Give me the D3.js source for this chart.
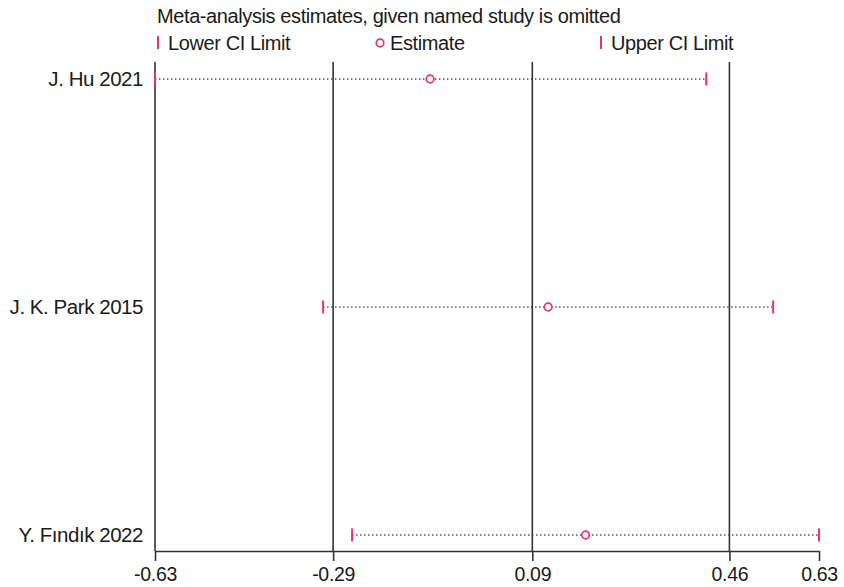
<!DOCTYPE html>
<html><head><meta charset="utf-8">
<script src="https://cdn.jsdelivr.net/npm/d3@7"></script>
<style>
html,body{margin:0;padding:0;background:#fff;}
text{font-family:"Liberation Sans",Arial,sans-serif;fill:#1a1a1a;}
</style></head>
<body>
<svg id="chart" width="844" height="587"></svg>
<script>
const studies = ["J. Hu 2021", "J. K. Park 2015", "Y. Fındık 2022"];
const lower = [-0.63, -0.311, -0.256];
const estimate = [-0.108, 0.116, 0.187];
const upper = [0.416, 0.543, 0.63];
const tickValues = [-0.63, -0.292, 0.086, 0.46, 0.63];
const tickLabels = ["-0.63", "-0.29", "0.09", "0.46", "0.63"];
const titleText = "Meta-analysis estimates, given named study is omitted";
const legendLabels = ["Lower CI Limit", "Estimate", "Upper CI Limit"];

const pink = "#e8336a";
const svg = d3.select("#chart");
const x = d3.scaleLinear().domain([-0.63, 0.63]).range([155, 819]);
const y = d3.scalePoint().domain(studies).range([79, 535]);
const plotTop = 62, axisY = 551;

// vertical reference lines
svg.selectAll("line.vref").data(tickValues.slice(0, 4)).enter().append("line")
  .attr("x1", d => x(d)).attr("x2", d => x(d))
  .attr("y1", plotTop).attr("y2", axisY)
  .attr("stroke", "#333").attr("stroke-width", 1.6);

// axis
const axis = d3.axisBottom(x).tickValues(tickValues)
  .tickFormat((d, i) => tickLabels[i]).tickSize(10).tickSizeOuter(0);
const ag = svg.append("g").attr("transform", `translate(0,${axisY})`).call(axis);
ag.select(".domain").attr("stroke", "#333").attr("stroke-width", 1.6);
ag.selectAll(".tick line").attr("stroke", "#333").attr("stroke-width", 1.6);
ag.selectAll(".tick text").attr("font-size", 19.5).attr("dy", "0.88em")
  .attr("letter-spacing", -0.3)
  .style("font-family", '"Liberation Sans",Arial,sans-serif').attr("fill", "#1a1a1a");

const rows = studies.map((s, i) => ({s, lo: lower[i], est: estimate[i], up: upper[i]}));

// dotted lines
svg.selectAll("line.ci").data(rows).enter().append("line")
  .attr("x1", d => x(d.lo)).attr("x2", d => x(d.up))
  .attr("y1", d => y(d.s)).attr("y2", d => y(d.s))
  .attr("stroke", "#4a4a4a").attr("stroke-width", 1.4).attr("stroke-dasharray", "1.4,2.6");

// CI limit ticks
["lo", "up"].forEach(k => {
  svg.selectAll("line.lim" + k).data(rows).enter().append("line")
    .attr("x1", d => x(d[k])).attr("x2", d => x(d[k]))
    .attr("y1", d => y(d.s) - 6.5).attr("y2", d => y(d.s) + 6.5)
    .attr("stroke", pink).attr("stroke-width", 2);
});

// estimates
svg.selectAll("circle.est").data(rows).enter().append("circle")
  .attr("cx", d => x(d.est)).attr("cy", d => y(d.s)).attr("r", 3.8)
  .attr("fill", "#fff").attr("stroke", pink).attr("stroke-width", 1.7);

// study labels
svg.selectAll("text.lab").data(rows).enter().append("text")
  .attr("x", 143).attr("y", d => y(d.s)).attr("dy", "0.36em")
  .attr("text-anchor", "end").attr("font-size", 20.5).attr("letter-spacing", -0.45)
  .text(d => d.s);

// title and legend
svg.append("text").attr("x", 157).attr("y", 23).attr("font-size", 20)
  .attr("letter-spacing", -0.4).text(titleText);
const legX = [158, 380, 601];
legendLabels.forEach((t, i) => {
  const g = svg.append("g");
  if (i === 1) {
    g.append("circle").attr("cx", legX[i]).attr("cy", 43).attr("r", 3.8)
      .attr("fill", "#fff").attr("stroke", pink).attr("stroke-width", 1.7);
  } else {
    g.append("line").attr("x1", legX[i]).attr("x2", legX[i]).attr("y1", 36).attr("y2", 49)
      .attr("stroke", pink).attr("stroke-width", 2);
  }
  g.append("text").attr("x", legX[i] + 10).attr("y", 50).attr("font-size", 20)
    .attr("letter-spacing", -0.4).text(t);
});
</script>
</body></html>
